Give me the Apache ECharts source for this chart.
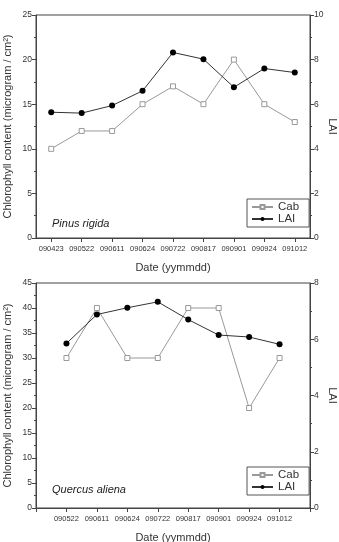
<!DOCTYPE html>
<html>
<head>
<meta charset="UTF-8">
<title>Chlorophyll and LAI</title>
<script type="text/javascript" src="https://cdn.jsdelivr.net/npm/echarts@6/dist/echarts.min.js"></script>
<style type="text/css">
body { margin: 0; background-color: #fff; }
#chart { width: 339px; height: 542px; }
</style>
</head>
<body>
	<div id="chart"></div>
</body>
<script type="text/javascript">
	// Pinus rigida
	var dates1 = ['090423', '090522', '090611', '090624', '090722', '090817', '090901', '090924', '091012'];
	var cab1 = [10, 12, 12, 15, 17, 15, 20, 15, 13];
	var lai1 = [5.64, 5.6, 5.94, 6.6, 8.32, 8.02, 6.76, 7.6, 7.42];
	// Quercus aliena
	var dates2 = ['090522', '090611', '090624', '090722', '090817', '090901', '090924', '091012'];
	var cab2 = [30, 40, 30, 30, 40, 40, 20, 30];
	var lai2 = [5.85, 6.88, 7.12, 7.33, 6.7, 6.15, 6.08, 5.82];

	var axisColor = '#444';
	var txtColor = '#333';
	var font = 'Liberation Sans';

	function yAxisL(idx, max, name) {
		return {
			type : 'value', gridIndex : idx, min : 0, max : max, interval : 5,
			name : name, nameLocation : 'middle', nameGap : 23, nameMoveOverlap : false,
			nameTextStyle : { fontSize : 11, color : txtColor, fontFamily : font },
			axisLine : { show : true, lineStyle : { color : axisColor } },
			axisTick : { show : true, length : 4, lineStyle : { color : axisColor } },
			minorTick : { show : true, splitNumber : 2, length : 2, lineStyle : { color : axisColor } },
			axisLabel : { fontSize : 8.5, color : txtColor, margin : 4, fontFamily : font },
			splitLine : { show : false }
		};
	}
	function yAxisR(idx, max) {
		return {
			type : 'value', gridIndex : idx, position : 'right', min : 0, max : max, interval : 2,
			name : 'LAI', nameLocation : 'middle', nameGap : 17, nameRotate : -90, nameMoveOverlap : false,
			nameTextStyle : { fontSize : 11, color : txtColor, fontFamily : font },
			axisLine : { show : true, lineStyle : { color : axisColor } },
			axisTick : { show : true, length : 4, lineStyle : { color : axisColor } },
			minorTick : { show : true, splitNumber : 2, length : 2, lineStyle : { color : axisColor } },
			axisLabel : { fontSize : 8.5, color : txtColor, margin : 4, fontFamily : font },
			splitLine : { show : false }
		};
	}
	function xAxis(idx, data, gap) {
		return {
			type : 'category', gridIndex : idx, data : data, boundaryGap : gap,
			name : 'Date (yymmdd)', nameLocation : 'middle', nameGap : 24,
			nameTextStyle : { fontSize : 11, color : txtColor, fontFamily : font },
			axisLine : { show : true, lineStyle : { color : axisColor } },
			axisTick : { show : true, alignWithLabel : true, length : 4, lineStyle : { color : axisColor } },
			axisLabel : { fontSize : 7.5, color : txtColor, margin : 7, interval : 0, fontFamily : font },
			splitLine : { show : false }
		};
	}
	var cabStyle = {
		type : 'line', name : 'Cab', symbol : 'rect', symbolSize : 5,
		lineStyle : { color : '#999', width : 1 },
		itemStyle : { color : '#fff', borderColor : '#999', borderWidth : 1 },
		z : 2
	};
	var laiStyle = {
		type : 'line', name : 'LAI', symbol : 'circle', symbolSize : 6,
		lineStyle : { color : '#333', width : 1 },
		itemStyle : { color : '#000' },
		z : 3
	};
	function legend(top) {
		return {
			orient : 'vertical', left : 247, top : top,
			data : ['Cab', 'LAI'], borderColor : '#555', borderWidth : 1,
			padding : [2, 10, 2, 4], itemGap : 0, itemWidth : 21, itemHeight : 5,
			textStyle : { fontSize : 11.5, color : txtColor, fontFamily : font },
			inactiveColor : '#ccc'
		};
	}

	var padVals = function(arr) { return [null].concat(arr).concat([null]); };
	var padCats = function(arr) { return [''].concat(arr).concat(['']); };
	var yname = 'Chlorophyll content (microgram / cm\u00B2)';

	var myChart = echarts.init(document.getElementById('chart'));
	var option = {
		animation : false,
		grid : [
			{ left : 36, right : 29, top : 15, height : 223, show : true, borderColor : axisColor, borderWidth : 1, outerBoundsMode : 'none' },
			{ left : 36, right : 29, top : 283, height : 225, show : true, borderColor : axisColor, borderWidth : 1, outerBoundsMode : 'none' }
		],
		xAxis : [ xAxis(0, dates1, true), xAxis(1, padCats(dates2), false) ],
		yAxis : [ yAxisL(0, 25, yname), yAxisR(0, 10), yAxisL(1, 45, yname), yAxisR(1, 8) ],
		legend : [ legend(199), legend(467) ],
		graphic : [
			{ type : 'text', left : 52, top : 218, style : { text : 'Pinus rigida', fontSize : 11, fontStyle : 'italic', fill : '#222', fontFamily : font } },
			{ type : 'text', left : 52, top : 484, style : { text : 'Quercus aliena', fontSize : 11, fontStyle : 'italic', fill : '#222', fontFamily : font } }
		],
		series : [
			Object.assign({}, cabStyle, { xAxisIndex : 0, yAxisIndex : 0, data : cab1 }),
			Object.assign({}, laiStyle, { xAxisIndex : 0, yAxisIndex : 1, data : lai1 }),
			Object.assign({}, cabStyle, { xAxisIndex : 1, yAxisIndex : 2, data : padVals(cab2) }),
			Object.assign({}, laiStyle, { xAxisIndex : 1, yAxisIndex : 3, data : padVals(lai2) })
		]
	};
	myChart.setOption(option);
</script>
</html>
